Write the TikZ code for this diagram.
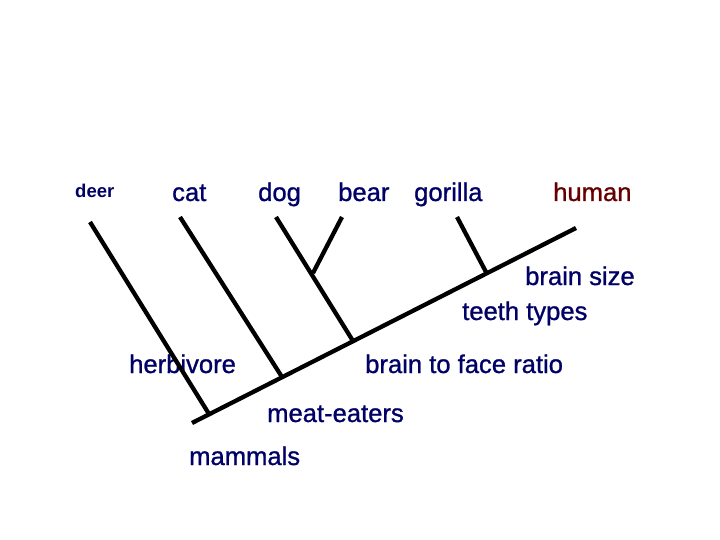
\documentclass[tikz,border=0pt]{standalone}
\usepackage{fontspec}
\setmainfont{Liberation Sans}
\newfontfamily\lblfont[FakeBold=1]{Liberation Sans}
\definecolor{navy}{RGB}{0,0,102}
\definecolor{maroon}{RGB}{102,0,0}
\begin{document}
\begin{tikzpicture}[x=1pt,y=-1pt,
  lbl/.style={anchor=base west,inner sep=0pt,text=navy,font=\lblfont\fontsize{25.6}{30}\selectfont},
  branch/.style={line width=4.3pt,black}]
\useasboundingbox[fill=white] (0,0) rectangle (720,540);
% labels
\node[lbl,font=\bfseries\fontsize{18.5}{22}\selectfont] (deer) at (75,197) {deer};
\node[lbl] (cat) at (172,201) {cat};
\node[lbl] (dog) at (258,201) {dog};
\node[lbl] (bear) at (338,201) {bear};
\node[lbl] (gorilla) at (414,201) {gorilla};
\node[lbl,text=maroon] (human) at (553,201) {human};
\node[lbl] (bsize) at (525,285) {brain size};
\node[lbl] (teeth) at (462,320) {teeth types};
\node[lbl] (herb) at (129,373) {herbivore};
\node[lbl] (ratio) at (365,373) {brain to face ratio};
\node[lbl] (meat) at (267,422) {meat-eaters};
\node[lbl] (mamm) at (189,465) {mammals};
% tree points
\coordinate (root) at (192,423);
\coordinate (tip) at (576,228);
\coordinate (jdeer) at (209,414);
\coordinate (jcat) at (282,377);
\coordinate (jdog) at (353,341);
\coordinate (jgor) at (486,272);
\coordinate (jbear) at (313,273);
\coordinate (tdeer) at (90,222);
\coordinate (tcat) at (180,217);
\coordinate (tdog) at (276,217);
\coordinate (tbear) at (342,217);
\coordinate (tgor) at (457,217);
\draw[branch] (root) -- (tip);
\draw[branch] (tdeer) -- (jdeer);
\draw[branch] (tcat) -- (jcat);
\draw[branch] (tdog) -- (jdog);
\draw[branch] (tbear) -- (jbear);
\draw[branch] (tgor) -- (jgor);
\end{tikzpicture}
\end{document}
